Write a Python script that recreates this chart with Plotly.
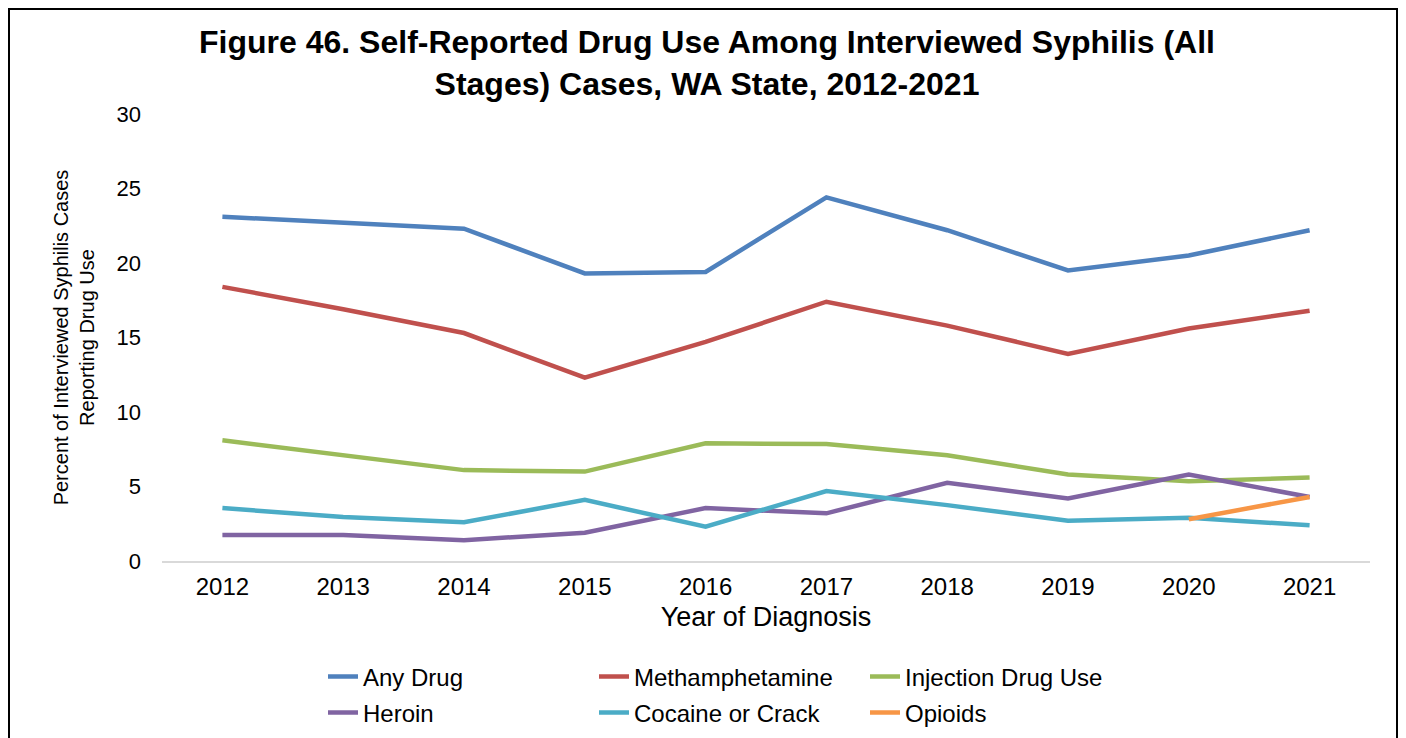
import plotly.graph_objects as go

years = ["2012", "2013", "2014", "2015", "2016", "2017", "2018", "2019", "2020", "2021"]

any_drug = [23.1, 22.7, 22.3, 19.3, 19.4, 24.4, 22.2, 19.5, 20.5, 22.2]
meth = [18.4, 16.9, 15.3, 12.3, 14.7, 17.4, 15.8, 13.9, 15.6, 16.8]
injection = [8.1, 7.1, 6.1, 6.0, 7.9, 7.85, 7.1, 5.8, 5.35, 5.6]
heroin = [1.75, 1.75, 1.4, 1.9, 3.55, 3.2, 5.25, 4.2, 5.8, 4.3]
cocaine = [3.55, 2.95, 2.6, 4.1, 2.3, 4.7, 3.75, 2.7, 2.9, 2.4]
opioids = [None, None, None, None, None, None, None, None, 2.8, 4.3]

series = [
    ("Any Drug", any_drug, "#4F81BD", "legend"),
    ("Methamphetamine", meth, "#C0504D", "legend"),
    ("Injection Drug Use", injection, "#9BBB59", "legend"),
    ("Heroin", heroin, "#8064A2", "legend2"),
    ("Cocaine or Crack", cocaine, "#4BACC6", "legend2"),
    ("Opioids", opioids, "#F79646", "legend2"),
]

FONT = "Liberation Sans, Arial, sans-serif"
# page has an 8px body margin, so the figure is drawn 8px smaller
W, H = 1398, 730
L, R, T, B = 154, 36, 106, 177
PW, PH = W - L - R, H - T - B

fig = go.Figure()
for name, vals, color, leg in series:
    fig.add_trace(go.Scatter(
        x=years, y=vals, name=name, mode="lines",
        line=dict(color=color, width=4.5),
        legend=leg))

legend_style = dict(
    orientation="h", xanchor="left", yanchor="middle",
    xref="container", yref="container",
    font=dict(size=24, color="black", family=FONT),
    entrywidth=226, entrywidthmode="pixels",
    bgcolor="rgba(0,0,0,0)", itemwidth=30, tracegroupgap=0)

fig.update_layout(
    width=W, height=H,
    margin=dict(l=L, r=R, t=T, b=B),
    paper_bgcolor="white", plot_bgcolor="white",
    font=dict(family=FONT, color="black"),
    title=dict(
        text="<b>Figure 46. Self-Reported Drug Use Among Interviewed Syphilis (All<br>Stages) Cases, WA State, 2012-2021</b>",
        x=0.5, xanchor="center", y=1 - 45 / H, yanchor="middle",
        font=dict(size=32, color="black", family=FONT)),
    xaxis=dict(
        type="category", range=[-0.5, 9.5], automargin=False,
        showline=True, linecolor="#D9D9D9", linewidth=1.5,
        showgrid=False, zeroline=False, ticks="",
        tickfont=dict(size=24), ticklabelstandoff=3,
        title=dict(text="Year of Diagnosis", font=dict(size=27), standoff=9)),
    yaxis=dict(
        range=[0, 30], dtick=5, showgrid=False, zeroline=False, automargin=False,
        showline=False, ticks="", tickfont=dict(size=22), ticklabelstandoff=20,
        title=dict(text="Percent of Interviewed Syphilis Cases<br>Reporting Drug Use",
                   font=dict(size=20), standoff=16)),
    legend=dict(x=315 / W, y=1 - 669 / H, **legend_style),
    legend2=dict(x=315 / W, y=1 - 705 / H, **legend_style),
    shapes=[dict(type="rect", xref="paper", yref="paper",
                 x0=(1 - L) / PW, x1=(1389 - L) / PW,
                 y0=(H - B - 745) / PH, y1=(H - B - 1) / PH,
                 line=dict(color="black", width=2), layer="below")],
)

fig.write_html("out.html")
